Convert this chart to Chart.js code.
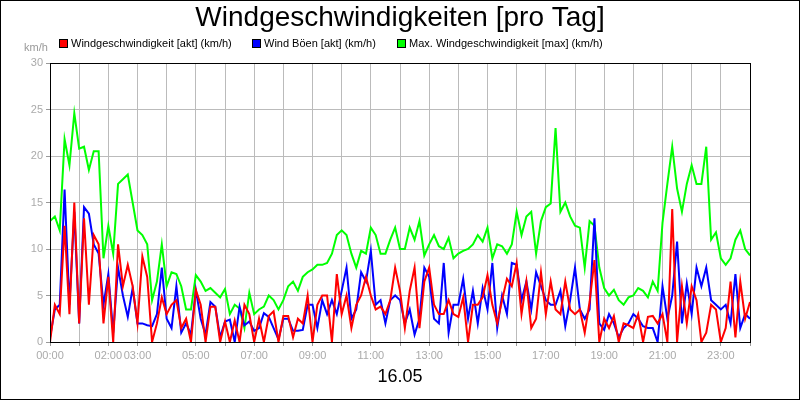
<!DOCTYPE html>
<html lang="de">
<head>
  <meta charset="UTF-8" />
  <title>Windgeschwindigkeiten [pro Tag]</title>
  <script src="https://cdn.jsdelivr.net/npm/chart.js"></script>
  <style>
    body { margin: 0; background: #fff; }
  </style>
</head>
<body>
  <canvas id="windChart" width="800" height="400"></canvas>

  <script>
    // Daten (10-Minuten-Werte, 00:00 bis 24:00)
    const chartTitle = "Windgeschwindigkeiten [pro Tag]";
    const dateLabel = "16.05";
    const unitLabel = "km/h";
    const seriesNames = ["Windgeschwindigkeit [akt] (km/h)", "Wind Böen [akt] (km/h)", "Max. Windgeschwindigkeit [max] (km/h)"];
    const tickLabels = ["00:00", "02:00", "03:00", "05:00", "07:00", "09:00", "11:00", "13:00", "15:00", "17:00", "19:00", "21:00", "23:00"];
    const stepMinutes = 10;

    const windAkt = [
      0, 4, 3, 12.5, 3, 15, 2, 13.3, 4, 11.5, 10.5, 2, 7, 0, 10.5, 6, 8.3, 6, 2, 9.2,
      7, 0, 2, 4.8, 3, 4, 4.5, 1.5, 2.5, 0, 5.6, 4, 0, 3.8, 3.8, 0, 2.2, 0, 2.3, 0,
      4, 3, 0, 2.5, 0, 2.8, 3.3, 0, 2.8, 2.8, 0.5, 2.5, 2, 5, 0, 4, 5, 5, 0, 7.3,
      3, 5, 1.5, 4, 5, 7, 5, 3.5, 3.8, 3, 4.5, 8, 5.5, 1.5, 5.5, 8, 1.5, 6.5, 8, 4,
      3, 3, 4.5, 3, 2.7, 4.8, 0, 4, 4, 4.8, 7.2, 4, 2, 4.5, 6.8, 6, 8.5, 3, 6.5, 1.5,
      2.5, 7.5, 3, 6.5, 3.5, 3, 6.5, 3.5, 3, 3.5, 1, 4.3, 8.8, 0, 2.5, 1.5, 2.8, 0, 2, 1.8,
      1.5, 3, 0, 2.7, 2.8, 2, 3, 0, 14.3, 0, 6, 2, 6, 4.5, 0, 1, 4, 3.5, 0, 1.5,
      6.5, 0.5, 6.5, 2.5, 4.3
    ];
    const windBoeen = [
      0.5, 3.5, 4, 16.4, 4, 14, 2, 14.5, 13.8, 10.5, 9.5, 4, 7.3, 1, 8, 5, 2.7, 5.8, 2, 2,
      1.8, 1.7, 3, 8, 2.5, 1.5, 6, 1, 2, 0.8, 5.6, 2.5, 0.8, 4.3, 3.8, 0.5, 2.2, 2.4, 0, 3.8,
      1.8, 2.2, 1.2, 1.5, 3.1, 2.7, 1.5, 0.3, 2.5, 2.5, 1.2, 1.2, 1.3, 4, 4, 1.5, 4.5, 3, 4.5, 3,
      5.5, 8, 2.5, 3.5, 7.5, 6.5, 9.8, 4, 4.5, 2, 4.5, 5, 4.5, 2, 3.5, 0.8, 2.5, 8, 7, 2.5,
      2, 8.5, 1, 4, 4, 6.8, 2.5, 5.5, 2, 5.8, 3.5, 8.5, 1.5, 5, 3, 8.5, 8.3, 4.5, 6.5, 3.5,
      7.5, 6, 4.5, 4, 4, 5.5, 1.7, 4.5, 8, 3.5, 2.5, 3.5, 13.3, 2, 1.3, 3, 2, 0.5, 1.5, 2,
      3, 2.5, 1.7, 1.5, 1.5, 0, 6, 2.5, 5, 10.8, 2, 6.3, 3, 8, 6, 8, 4.5, 4, 3.5, 4,
      2, 7.3, 1.5, 3, 2.5
    ];
    const windMax = [
      13, 13.5, 12, 21.8, 19, 24.6, 20.8, 21, 18.5, 20.5, 20.5, 9, 12.5, 9.5, 17, 17.5, 18, 15, 12, 11.5,
      10.5, 4.5, 6.5, 10.5, 6, 7.5, 7.3, 6, 3.5, 3.5, 7.2, 6.5, 5.5, 5.8, 5.3, 4.8, 5.7, 3, 4, 3.6,
      1.5, 5.3, 3, 3.5, 3.8, 5, 4.5, 3.5, 4.5, 6, 6.5, 5.5, 7, 7.5, 7.8, 8.3, 8.3, 8.5, 9.5, 11.5,
      12, 11.5, 9.5, 8, 9.8, 9.5, 12.3, 11.5, 9.5, 9.5, 11, 12.3, 10, 10, 12.3, 11, 13, 9.3, 10.5, 11.5,
      10.3, 10, 11.2, 9, 9.5, 9.8, 10, 10.5, 11.5, 10.8, 12.3, 9, 10.5, 10.3, 9.5, 10.5, 14, 11.5, 13.5, 14,
      9.5, 13, 14.5, 14.9, 23, 14, 15, 13.5, 12.5, 12.3, 8, 13, 12.5, 8, 5.8, 5, 5.6, 4.5, 4, 4.8,
      5, 5.8, 5.5, 4.8, 6.5, 5.5, 12.8, 17, 21, 16.5, 14, 17, 19, 17, 17, 21, 11, 11.8, 9, 8.3,
      9, 11, 12, 10, 9.3
    ];

    function toPoints(values) {
      return values.map((v, i) => ({ x: i * stepMinutes, y: v }));
    }

    function minutesToLabel(m) {
      const h = Math.floor(m / 60);
      return (h < 10 ? "0" : "") + h + ":00";
    }

    const colors = ["#ff0000", "#0000ff", "#00ff00"];

    // Titel, Legende, Einheit, Datum und Rahmen
    const decorations = {
      id: "decorations",
      afterDraw(chart) {
        const c = chart.ctx;
        const a = chart.chartArea;
        c.save();
        c.strokeStyle = "#000";
        c.lineWidth = 1;
        c.strokeRect(0.5, 0.5, 799, 399);
        c.strokeRect(a.left + 0.5, a.top + 0.5, a.right - a.left, a.bottom - a.top);

        c.fillStyle = "#000";
        c.font = "28px 'Liberation Sans', Arial, sans-serif";
        c.textAlign = "center";
        c.textBaseline = "middle";
        c.fillText(chartTitle, 400, 18);

        c.font = "18px 'Liberation Sans', Arial, sans-serif";
        c.fillText(dateLabel, 400, 377);

        c.font = "11px 'Liberation Sans', Arial, sans-serif";
        c.textAlign = "left";
        const legendX = [59, 252, 397];
        seriesNames.forEach((name, i) => {
          c.fillStyle = colors[i];
          c.fillRect(legendX[i], 39, 9, 9);
          c.strokeStyle = "#000";
          c.strokeRect(legendX[i] + 0.5, 39.5, 8, 8);
          c.fillStyle = "#000";
          c.fillText(name, legendX[i] + 12, 44);
        });

        c.fillStyle = "#999";
        c.textAlign = "center";
        c.fillText(unitLabel, 36, 48);
        c.restore();
      }
    };

    const ctx = document.getElementById("windChart").getContext("2d");

    const chart = new Chart(ctx, {
      type: "line",
      data: {
        datasets: [
          { label: seriesNames[0], data: toPoints(windAkt), borderColor: colors[0] },
          { label: seriesNames[1], data: toPoints(windBoeen), borderColor: colors[1] },
          { label: seriesNames[2], data: toPoints(windMax), borderColor: colors[2] }
        ]
      },
      options: {
        responsive: false,
        animation: false,
        devicePixelRatio: 1,
        layout: { padding: { top: 63, right: 50, left: 0, bottom: 0 } },
        elements: {
          line: { borderWidth: 2, tension: 0 },
          point: { radius: 0 }
        },
        plugins: {
          legend: { display: false },
          title: { display: false },
          tooltip: { enabled: false }
        },
        scales: {
          x: {
            type: "linear",
            min: 0,
            max: 1440,
            afterFit(scale) { scale.height = 58; },
            afterBuildTicks(scale) {
              const t = [];
              for (let m = 0; m <= 1440; m += 60) t.push({ value: m });
              scale.ticks = t;
            },
            grid: { color: "#bbbbbb", tickLength: 4, tickColor: "#999" },
            border: { color: "#000" },
            ticks: {
              autoSkip: false,
              maxRotation: 0,
              color: "#aaaaaa",
              font: { size: 11, family: "'Liberation Sans', Arial, sans-serif" },
              callback: (v) => {
                const s = minutesToLabel(v);
                return tickLabels.includes(s) && v < 1440 ? s : "";
              }
            }
          },
          y: {
            min: 0,
            max: 30,
            afterFit(scale) { scale.width = 50; },
            grid: { color: "#bbbbbb", tickLength: 4, tickColor: "#999" },
            border: { color: "#000" },
            ticks: {
              stepSize: 5,
              color: "#aaaaaa",
              padding: 3,
              font: { size: 11, family: "'Liberation Sans', Arial, sans-serif" }
            }
          }
        }
      },
      plugins: [decorations]
    });
  </script>
</body>
</html>
